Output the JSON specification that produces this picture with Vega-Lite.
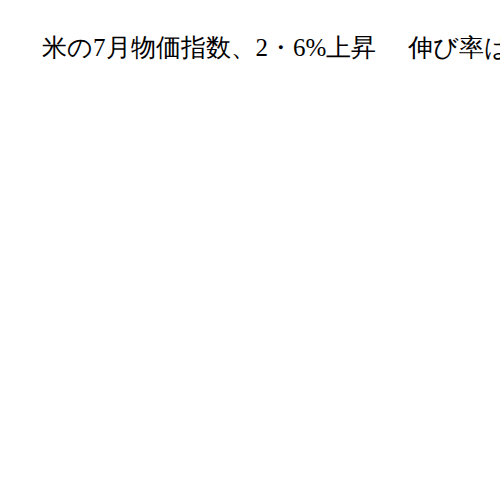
{
  "$schema": "https://vega.github.io/schema/vega-lite/v6.json",
  "width": 500,
  "height": 500,
  "autosize": {"type": "fit", "contains": "padding"},
  "padding": 0,
  "background": "white",
  "config": {"view": {"stroke": null}},
  "title": {
    "text": "米の7月物価指数、2・6%上昇　 伸び率は鈍化",
    "anchor": "start",
    "frame": "bounds",
    "font": "serif",
    "fontSize": 25,
    "fontWeight": "normal",
    "color": "black",
    "dx": 42,
    "offset": 0,
    "dy": 61,
    "limit": 0
  },
  "data": {"values": [{"label": "", "value": 0}]},
  "mark": {"type": "point", "opacity": 0},
  "encoding": {
    "x": {"field": "label", "type": "nominal", "axis": null},
    "y": {"field": "value", "type": "quantitative", "axis": null}
  }
}
